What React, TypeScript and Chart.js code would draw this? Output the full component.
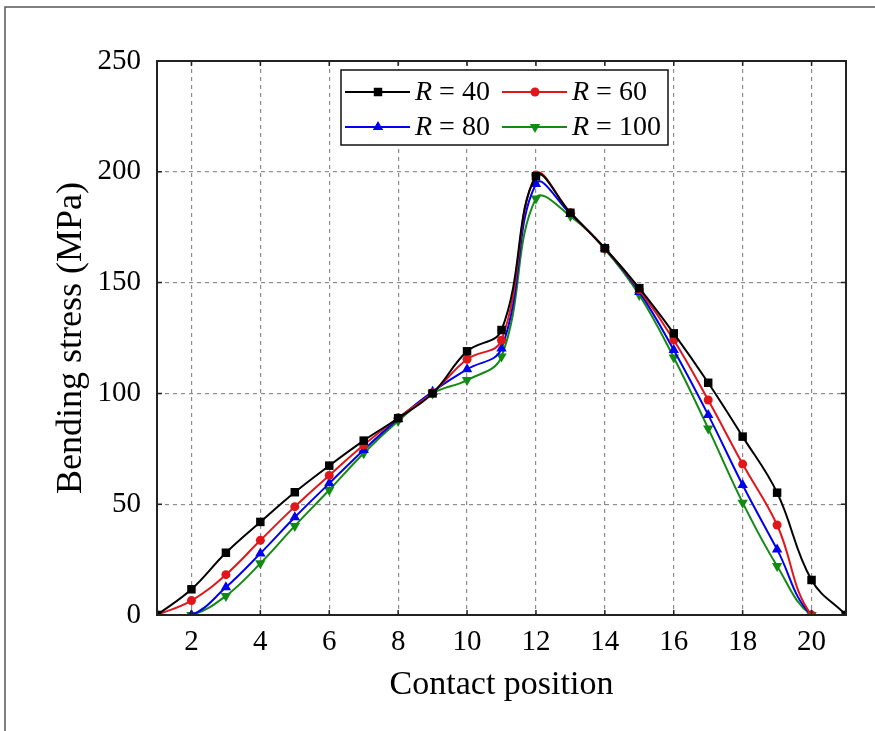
import React, { useEffect, useRef } from "react";
import { Chart, registerables } from "chart.js";
Chart.register(...registerables);

const positions = [1, 2, 3, 4, 5, 6, 7, 8, 9, 10, 11, 12, 13, 14, 15, 16, 17, 18, 19, 20, 21];
const r40 = [0, 11.6, 28.1, 42, 55.4, 67.4, 78.7, 88.8, 100, 119, 128.6, 198, 181.5, 165.5, 147.5, 127.1, 104.8, 80.5, 55.2, 15.8, 0];
const r60 = [0, 6.5, 18.2, 33.7, 48.9, 63, 76.7, 89, 100.3, 115.4, 124, 198.6, 181.5, 165.5, 146.8, 124.1, 97, 68.1, 40.6, 0, 0];
const r80 = [0, 0, 12.5, 27.8, 44.1, 59.4, 74.5, 88.5, 100.8, 110.9, 120.3, 194.5, 181, 165.5, 145.8, 119.6, 90.3, 58.7, 29.6, 0, 0];
const r100 = [0, 0, 8.6, 23.3, 40.2, 56.4, 73, 87.5, 100, 106, 116.6, 188, 180, 165, 144.4, 116.2, 84.2, 50.7, 22.1, 0, 0];

const xTicks = [2, 4, 6, 8, 10, 12, 14, 16, 18, 20];
const yTicks = [0, 50, 100, 150, 200, 250];

const seriesLabels = ["40", "60", "80", "100"];
const seriesColors = ["#000000", "#e0161b", "#0000ee", "#138a13"];
const seriesStyles = ["rect", "circle", "triangle", "triangle"];
const seriesRot = [0, 0, 0, 180];
const seriesRadius = [6, 4.5, 6, 6];

const FONT = "'Liberation Serif', 'Times New Roman', serif";

function drawMarker(ctx: CanvasRenderingContext2D, style: string, rot: number, x: number, y: number, r: number) {
  ctx.save();
  ctx.translate(x, y);
  ctx.rotate((rot * Math.PI) / 180);
  ctx.beginPath();
  if (style === "rect") {
    const s = r * Math.SQRT1_2;
    ctx.rect(-s, -s, 2 * s, 2 * s);
  } else if (style === "circle") {
    ctx.arc(0, 0, r, 0, Math.PI * 2);
  } else {
    ctx.moveTo(0, -r);
    ctx.lineTo(r * 0.866, r * 0.5);
    ctx.lineTo(-r * 0.866, r * 0.5);
    ctx.closePath();
  }
  ctx.fill();
  ctx.restore();
}

const decorPlugin = {
  id: "decor",
  afterDraw(chart: any) {
    const { ctx, chartArea: a, scales } = chart;
    ctx.save();
    // outer frame
    ctx.strokeStyle = "#555";
    ctx.lineWidth = 1.5;
    ctx.beginPath();
    ctx.moveTo(5, 731);
    ctx.lineTo(5, 7);
    ctx.lineTo(875, 7);
    ctx.stroke();
    // plot frame
    ctx.strokeStyle = "#222";
    ctx.lineWidth = 2;
    ctx.strokeRect(a.left, a.top, a.right - a.left, a.bottom - a.top);
    // inside ticks
    ctx.lineWidth = 1.5;
    ctx.beginPath();
    xTicks.forEach((v) => {
      const px = scales.x.getPixelForValue(v);
      ctx.moveTo(px, a.bottom);
      ctx.lineTo(px, a.bottom - 5);
      ctx.moveTo(px, a.top);
      ctx.lineTo(px, a.top + 5);
    });
    yTicks.forEach((v) => {
      const py = scales.y.getPixelForValue(v);
      ctx.moveTo(a.left, py);
      ctx.lineTo(a.left + 5, py);
      ctx.moveTo(a.right, py);
      ctx.lineTo(a.right - 5, py);
    });
    ctx.stroke();

    // legend
    const bx = a.left + 184;
    const by = a.top + 9;
    const bw = 327;
    const bh = 75;
    ctx.fillStyle = "#fff";
    ctx.fillRect(bx, by, bw, bh);
    ctx.strokeStyle = "#111";
    ctx.lineWidth = 1.5;
    ctx.strokeRect(bx, by, bw, bh);
    const cols = [bx + 4, bx + 161];
    const rows = [by + 22, by + 57];
    chart.data.datasets.forEach((ds: any, i: number) => {
      const cx = cols[i % 2];
      const cy = rows[Math.floor(i / 2)];
      ctx.strokeStyle = ds.borderColor;
      ctx.lineWidth = 2;
      ctx.beginPath();
      ctx.moveTo(cx, cy);
      ctx.lineTo(cx + 65, cy);
      ctx.stroke();
      ctx.fillStyle = ds.borderColor;
      drawMarker(ctx, ds.pointStyle, ds.pointRotation, cx + 33, cy, ds.pointRadius);
      ctx.fillStyle = "#000";
      ctx.textBaseline = "middle";
      ctx.textAlign = "left";
      ctx.font = `italic 28px ${FONT}`;
      const tx = cx + 70;
      ctx.fillText("R", tx, cy + 1);
      const w = ctx.measureText("R").width;
      ctx.font = `28px ${FONT}`;
      ctx.fillText(" = " + seriesLabels[i], tx + w, cy + 1);
    });
    ctx.restore();
  },
};

export default function App() {
  const ref = useRef<HTMLCanvasElement>(null);
  useEffect(() => {
    const values = [r40, r60, r80, r100];
    const chart = new Chart(ref.current!, {
      type: "line",
      data: {
        labels: positions,
        datasets: values.map((vals, i) => ({
          label: "R = " + seriesLabels[i],
          data: positions.map((p, j) => ({ x: p, y: vals[j] })),
          borderColor: seriesColors[i],
          backgroundColor: seriesColors[i],
          borderWidth: 2,
          pointStyle: seriesStyles[i],
          pointRotation: seriesRot[i],
          pointRadius: seriesRadius[i],
          pointBorderWidth: 0,
          tension: 0.4,
          fill: false,
        })),
      },
      options: {
        animation: false,
        responsive: false,
        layout: { padding: { left: 50, top: 61, right: 29, bottom: 22 } },
        plugins: { legend: { display: false }, tooltip: { enabled: false } },
        scales: {
          x: {
            type: "linear",
            min: 1,
            max: 21,
            afterBuildTicks: (s: any) => {
              s.ticks = xTicks.map((v) => ({ value: v }));
            },
            afterFit: (s: any) => {
              s.height = 94;
            },
            grid: { color: "#8c8c8c", lineWidth: 1.2, drawTicks: false },
            border: { display: false, dash: [4, 4] },
            ticks: { color: "#000", font: { family: FONT, size: 29 }, padding: 10, autoSkip: false, maxRotation: 0 },
            title: { display: true, text: "Contact position", color: "#000", font: { family: FONT, size: 34 }, padding: { top: 2 } },
          },
          y: {
            min: 0,
            max: 250,
            afterBuildTicks: (s: any) => {
              s.ticks = yTicks.map((v) => ({ value: v }));
            },
            afterFit: (s: any) => {
              s.width = 107;
            },
            grid: { color: "#8c8c8c", lineWidth: 1.2, drawTicks: false },
            border: { display: false, dash: [4, 4] },
            ticks: { color: "#000", font: { family: FONT, size: 29 }, padding: 16 },
            title: { display: true, text: "Bending stress (MPa)", color: "#000", font: { family: FONT, size: 36 }, padding: 0 },
          },
        },
      },
      plugins: [decorPlugin],
    } as any);
    return () => chart.destroy();
  }, []);
  return (
    <div style={{ position: "fixed", left: 0, top: 0, width: 875, height: 731, background: "#fff" }}>
      <canvas ref={ref} width={875} height={731} style={{ display: "block" }} />
    </div>
  );
}
